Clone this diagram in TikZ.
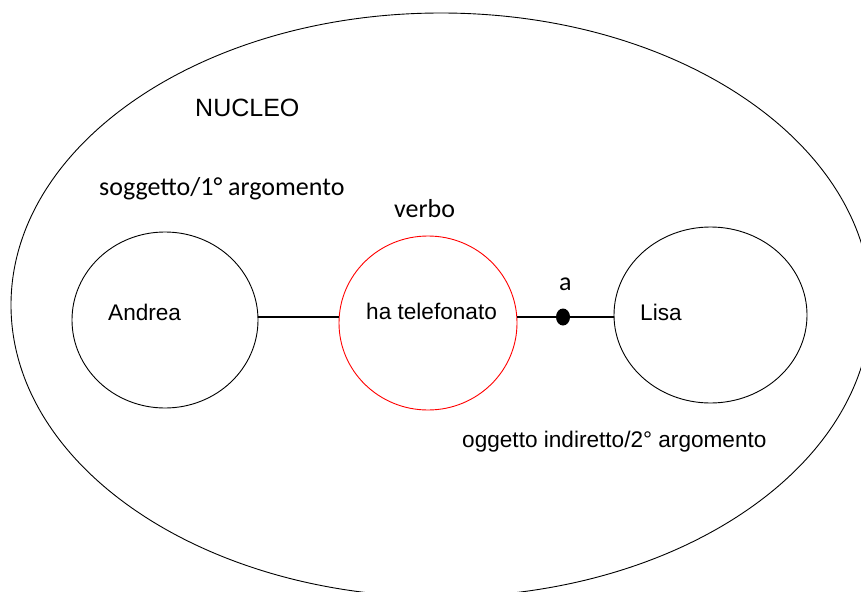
\documentclass[tikz,border=0pt]{standalone}
\usepackage{fontspec}
\setmainfont{Liberation Sans}
\newfontfamily\calib{Carlito}
\usetikzlibrary{shapes.geometric}
\begin{document}
\begin{tikzpicture}[x=1pt,y=-1pt,
  ring/.style={draw=black,line width=0.9pt,ellipse,inner sep=0pt},
  redring/.style={draw=red,line width=0.9pt,ellipse,inner sep=0pt},
  lbl/.style={anchor=base west,inner sep=0pt,font=\fontsize{22.6}{26}\selectfont},
  clbl/.style={anchor=base west,inner sep=0pt,font=\calib\fontsize{26}{30}\selectfont},
  conn/.style={line width=2.6pt}]
\useasboundingbox (0,0) rectangle (861,591);
\begin{scope}
\clip (0,0) rectangle (861,591);
\node[ring,minimum width=860pt,minimum height=584pt] (nucleo) at (441,305) {};
\end{scope}
\node[lbl,font=\fontsize{25}{30}\selectfont] (nt) at (195,117) {NUCLEO};
\node[clbl] (sogg) at (99,195) {soggetto/1° argomento};
\node[clbl] (verbo) at (394,217) {verbo};
\node[ring,minimum width=186pt,minimum height=176pt] (andrea) at (165,320) {};
\node[redring,minimum width=178pt,minimum height=174pt] (verb) at (428,323) {};
\node[ring,minimum width=193pt,minimum height=176pt] (lisa) at (710.5,315) {};
\node[lbl] (andreat) at (108,320) {Andrea};
\node[lbl] (verbt) at (366,319) {ha telefonato};
\node[lbl] (lisat) at (640,320) {Lisa};
\node[clbl] (prep) at (559,290) {a};
\node[lbl] (ogg) at (462,447) {oggetto indiretto/2° argomento};
\node[fill=black,ellipse,inner sep=0pt,minimum width=14pt,minimum height=17pt] (dot) at (563,317) {};
\coordinate (ly) at (0,317);
\draw[conn] (andrea.east |- ly) -- (verb.west |- ly);
\draw[conn] (verb.east |- ly) -- (dot) -- (lisa.west |- ly);
\end{tikzpicture}
\end{document}
